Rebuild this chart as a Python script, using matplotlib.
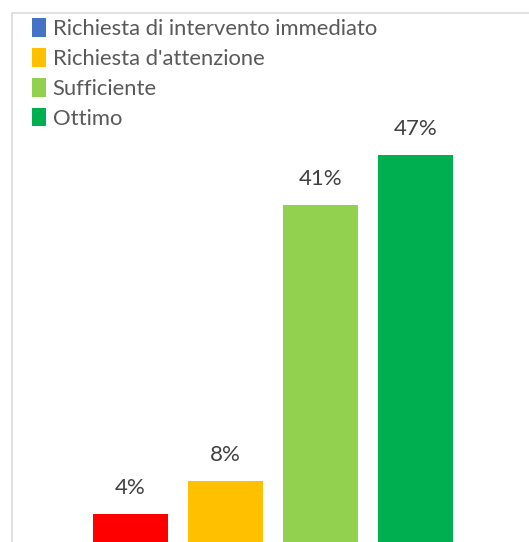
import matplotlib
matplotlib.use("Agg")
import matplotlib.pyplot as plt
from matplotlib.patches import Patch, Rectangle

categories = ["Richiesta di intervento immediato", "Richiesta d'attenzione", "Sufficiente", "Ottimo"]
values = [3.7, 7.7, 41.0, 47.0]
bar_colors = ["#FF0000", "#FFC000", "#92D050", "#00B050"]
legend_colors = ["#4472C4", "#FFC000", "#92D050", "#00B050"]

plt.rcParams['font.family'] = ['Lato', 'DejaVu Sans']

W, H = 529, 542
fig = plt.figure(figsize=(W / 100, H / 100), dpi=100)

# chart border
fig.patches.append(Rectangle((11.5 / W, -0.1), 1.2, (H - 12.5) / H + 0.1,
                             transform=fig.transFigure, fill=False,
                             edgecolor="#D9D9D9", linewidth=1.1))

# axes in pixel layout
x0, x1 = 83, 463
ybase = 545  # pixel from top
ytop = ybase - 8.3 * 50
ax = fig.add_axes([x0 / W, (H - ybase) / H, (x1 - x0) / W, (ybase - ytop) / H])
ax.set_xlim(-0.5, 3.5)
ax.set_ylim(0, 50)
ax.axis("off")

xs = list(range(len(values)))
bars = ax.bar(xs, values, width=0.79, color=bar_colors)
for x, v in zip(xs, values):
    ax.annotate(f"{v:.0f}%", (x, v), xytext=(0, 16), textcoords="offset pixels",
                ha="center", va="bottom", fontsize=16, color="#404040")

handles = [Patch(facecolor=c, edgecolor="none") for c in legend_colors]
fig.legend(handles, categories, loc="upper left", bbox_to_anchor=(32 / W, 1 - 18.5 / H),
           frameon=False, fontsize=15.8, labelcolor="#595959",
           handlelength=0.64, handleheight=0.9, handletextpad=0.3,
           labelspacing=0.42, borderaxespad=0, borderpad=0)

fig.savefig("out.png", dpi=100)
